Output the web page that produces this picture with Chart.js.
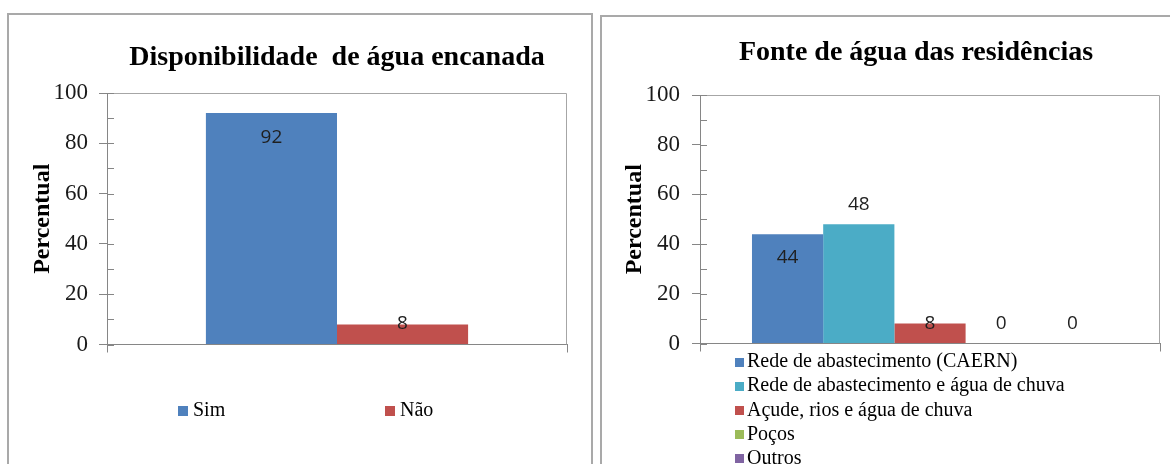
<!DOCTYPE html>
<html>
<head>
<meta charset="utf-8">
<script src="https://cdn.jsdelivr.net/npm/chart.js@4/dist/chart.umd.min.js"></script>
<style>
  html, body { margin:0; padding:0; background:#fff; width:1170px; height:464px; overflow:hidden; }
  .panel { position:absolute; border:2px solid #a9a9a9; box-sizing:border-box; }
  canvas { position:absolute; top:0; }
</style>
</head>
<body>
<div class="panel" style="left:7px; top:13px; width:586px; height:470px;"></div>
<div class="panel" style="left:600px; top:15px; width:600px; height:470px;"></div>
<canvas id="c1" width="590" height="464" style="left:0px;"></canvas>
<canvas id="c2" width="622" height="464" style="left:605px;"></canvas>
<script>
// ---------- data ----------
const chart1Title = 'Disponibilidade  de água encanada';
const chart1Categories = [''];
const chart1Series = ['Sim', 'Não'];
const chart1Values = [92, 8];

const chart2Title = 'Fonte de água das residências';
const chart2Categories = [''];
const chart2Series = ['Rede de abastecimento (CAERN)', 'Rede de abastecimento e água de chuva', 'Açude, rios e água de chuva', 'Poços', 'Outros'];
const chart2Values = [44, 48, 8, 0, 0];

const yAxisTitle = 'Percentual';
const yMin = 0, yMax = 100, yStep = 20, yMinorStep = 10;

// ---------- styles ----------
const seriesColors1 = ['#4F81BD', '#C0504D'];
const seriesColors2 = ['#4F81BD', '#4BACC6', '#C0504D', '#9BBB59', '#8064A2'];
const labelOffsets1 = [24, -1];
const labelOffsets2 = [23, -20, 0, -20, -20];
const AXIS = '#868686';
const FRAME = '#a6a6a6';
const SERIF = "'Liberation Serif', 'Times New Roman', serif";

// ---------- plugins ----------
const plotFrame = {
  id: 'plotFrame',
  beforeDatasetsDraw(chart) {
    const {ctx, chartArea: a} = chart;
    const y = chart.scales.y;
    ctx.save();
    ctx.lineWidth = 1;
    ctx.strokeStyle = FRAME;
    ctx.beginPath();
    ctx.moveTo(a.left, Math.round(a.top) + 0.5);
    ctx.lineTo(Math.round(a.right) - 0.5, Math.round(a.top) + 0.5);
    ctx.lineTo(Math.round(a.right) - 0.5, a.bottom);
    ctx.stroke();
    ctx.strokeStyle = AXIS;
    ctx.beginPath();
    for (let v = yMin; v <= yMax; v += yMinorStep) {
      const py = Math.round(y.getPixelForValue(v)) + 0.5;
      ctx.moveTo(a.left, py);
      ctx.lineTo(a.left + 7, py);
    }
    ctx.stroke();
    ctx.restore();
  }
};

const valueLabels = {
  id: 'valueLabels',
  afterDatasetsDraw(chart, args, opts) {
    const {ctx} = chart;
    ctx.save();
    ctx.font = opts.font;
    ctx.fillStyle = opts.color;
    ctx.textAlign = 'center';
    ctx.textBaseline = 'middle';
    chart.data.datasets.forEach((ds, i) => {
      const meta = chart.getDatasetMeta(i);
      meta.data.forEach((el, j) => {
        ctx.fillText(String(ds.data[j]), el.x, el.y + opts.offsets[i]);
      });
    });
    ctx.restore();
  }
};

const sheetLegend = {
  id: 'sheetLegend',
  afterDraw(chart, args, o) {
    const {ctx} = chart;
    ctx.save();
    ctx.font = o.font;
    ctx.textBaseline = 'middle';
    ctx.textAlign = 'left';
    chart.data.datasets.forEach((ds, i) => {
      const x = o.x + i * o.dx;
      const y = o.y + i * o.dy;
      ctx.fillStyle = ds.backgroundColor;
      ctx.fillRect(x, Math.round(y - o.box / 2), o.box, o.box);
      ctx.fillStyle = o.color;
      ctx.fillText(ds.label, x + o.box + o.gap, y);
    });
    ctx.restore();
  }
};

function yScale(width, labelPad, titlePad) {
  return {
    min: yMin, max: yMax,
    ticks: { stepSize: yStep, font: {family: SERIF, size: 23}, color: '#1a1a1a', padding: labelPad },
    grid: { drawOnChartArea: false, tickLength: 8, color: AXIS },
    border: { color: AXIS },
    title: { display: true, text: yAxisTitle, color: '#000',
             font: {family: SERIF, size: 24, weight: 'bold', lineHeight: 1.2},
             padding: {top: titlePad, bottom: 0} },
    afterFit(s) { s.width = width; }
  };
}
const xScale = {
  offset: true,
  grid: { drawOnChartArea: false, tickLength: 8, color: AXIS, offset: true },
  border: { color: AXIS },
  ticks: { display: false }
};

// ---------- chart 1 ----------
new Chart(document.getElementById('c1'), {
  type: 'bar',
  data: {
    labels: chart1Categories,
    datasets: chart1Series.map((name, i) => ({
      label: name,
      data: [chart1Values[i]],
      backgroundColor: seriesColors1[i],
      borderWidth: 0,
      categoryPercentage: 0.57,
      barPercentage: 1
    }))
  },
  options: {
    responsive: false, animation: false, devicePixelRatio: 1,
    layout: { padding: {left: 0, right: 23, top: 0, bottom: 111.5} },
    scales: { x: xScale, y: yScale(107, 11, 28.5) },
    plugins: {
      legend: { display: false },
      tooltip: { enabled: false },
      title: { display: true, text: chart1Title, fullSize: false, color: '#000',
               font: {family: SERIF, size: 28, weight: 'bold', lineHeight: 1.2},
               padding: {top: 41.2, bottom: 18.2} },
      valueLabels: { font: "19px 'Open Sans', sans-serif", color: '#1f1f1f', offsets: labelOffsets1 },
      sheetLegend: { x: 178, y: 410.5, dx: 207, dy: 0, box: 10, gap: 5, font: "20px " + SERIF, color: '#000' }
    }
  },
  plugins: [plotFrame, valueLabels, sheetLegend]
});

// ---------- chart 2 ----------
new Chart(document.getElementById('c2'), {
  type: 'bar',
  data: {
    labels: chart2Categories,
    datasets: chart2Series.map((name, i) => ({
      label: name,
      data: [chart2Values[i]],
      backgroundColor: seriesColors2[i],
      borderWidth: 0,
      categoryPercentage: 0.774,
      barPercentage: 1
    }))
  },
  options: {
    responsive: false, animation: false, devicePixelRatio: 1,
    layout: { padding: {left: 0, right: 0, top: 0, bottom: 112.5} },
    scales: {
      x: xScale,
      y: yScale(95, 12, 15.6),
      y2: { position: 'right', display: true, grid: {display: false}, border: {display: false},
            ticks: {display: false}, afterFit(s) { s.width = 67; } }
    },
    plugins: {
      legend: { display: false },
      tooltip: { enabled: false },
      title: { display: true, text: chart2Title, color: '#000',
               font: {family: SERIF, size: 28, weight: 'bold', lineHeight: 1.2},
               padding: {top: 36.2, bottom: 25.2} },
      valueLabels: { font: "19px 'Open Sans', sans-serif", color: '#1f1f1f', offsets: labelOffsets2 },
      sheetLegend: { x: 130, y: 362, dx: 0, dy: 24.2, box: 9, gap: 3, font: "20px " + SERIF, color: '#000' }
    }
  },
  plugins: [plotFrame, valueLabels, sheetLegend]
});
</script>
</body>
</html>
